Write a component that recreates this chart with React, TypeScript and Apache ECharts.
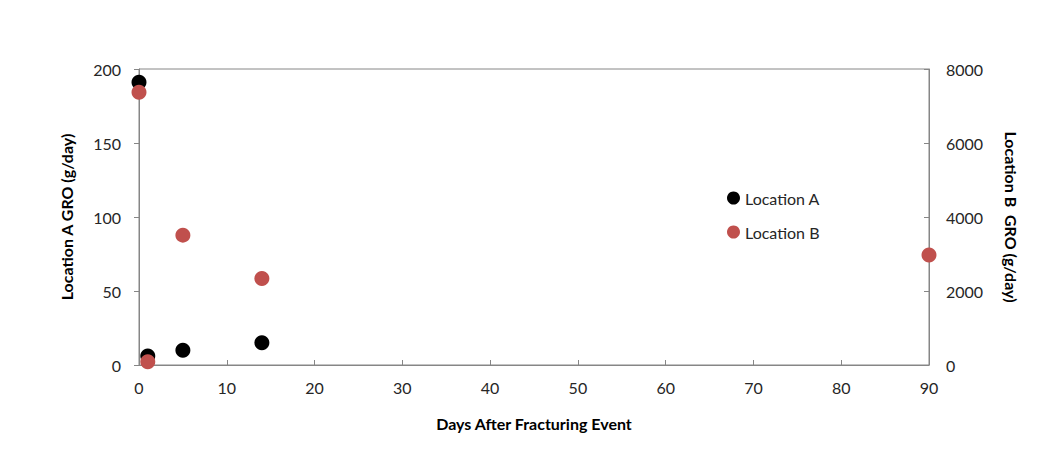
import React, { useEffect, useRef } from "react";
import * as echarts from "echarts";

// Days after the fracturing event at which GRO was measured
const daysA = [0, 1, 5, 14];
const groA = [191, 6, 10, 15]; // g/day, Location A (left axis)

const daysB = [0, 1, 5, 14, 90];
const groB = [7370, 90, 3510, 2340, 2970]; // g/day, Location B (right axis)

const xTicks = [0, 10, 20, 30, 40, 50, 60, 70, 80, 90];
const leftTicks = [0, 50, 100, 150, 200];
const rightTicks = [0, 2000, 4000, 6000, 8000];

const FONT = "Lato, 'Open Sans', sans-serif";
const AXIS_COLOR = "#868686";
const TEXT_COLOR = "#262626";

export default function App() {
  const ref = useRef<HTMLDivElement>(null);

  useEffect(() => {
    if (!ref.current) return;
    const chart = echarts.init(ref.current, undefined, { renderer: "svg" });

    const axisLabel = { color: TEXT_COLOR, fontSize: 16, fontFamily: FONT, formatter: (v: number) => String(v) };
    const axisName = { color: "#000", fontSize: 16, fontWeight: "bold" as const, fontFamily: FONT };

    chart.setOption({
      animation: false,
      backgroundColor: "#fff",
      textStyle: { fontFamily: FONT },
      // outer frame: left and top edges
      graphic: [
        {
          type: "polyline",
          z: 100,
          shape: { points: [[4, 464], [4, 5], [1043, 5]] },
          style: { fill: "none", stroke: "#000", lineWidth: 2 },
        },
      ],
      grid: {
        left: 139,
        right: 116,
        top: 69,
        bottom: 101,
        show: true,
        borderColor: AXIS_COLOR,
        borderWidth: 1,
        backgroundColor: "transparent",
      },
      legend: {
        left: 722,
        top: 185,
        orient: "vertical",
        itemGap: 18,
        itemWidth: 13,
        itemHeight: 13,
        icon: "circle",
        textStyle: { color: TEXT_COLOR, fontSize: 16, fontFamily: FONT },
        data: ["Location A", "Location B"],
      },
      xAxis: {
        type: "value",
        min: xTicks[0],
        max: xTicks[xTicks.length - 1],
        interval: 10,
        name: "Days After Fracturing Event",
        nameLocation: "middle",
        nameGap: 50,
        nameTextStyle: axisName,
        axisLine: { show: true, lineStyle: { color: AXIS_COLOR } },
        axisTick: { show: true, inside: true, length: 5, lineStyle: { color: AXIS_COLOR } },
        axisLabel: { ...axisLabel, margin: 14 },
        splitLine: { show: false },
      },
      yAxis: [
        {
          type: "value",
          position: "left",
          min: leftTicks[0],
          max: leftTicks[leftTicks.length - 1],
          interval: 50,
          name: "Location A GRO (g/day)",
          nameLocation: "middle",
          nameRotate: 90,
          nameGap: 65,
          nameTextStyle: axisName,
          axisLine: { show: true, lineStyle: { color: AXIS_COLOR } },
          axisTick: { show: true, length: 5, lineStyle: { color: AXIS_COLOR } },
          axisLabel: { ...axisLabel, margin: 18 },
          splitLine: { show: false },
        },
        {
          type: "value",
          position: "right",
          min: rightTicks[0],
          max: rightTicks[rightTicks.length - 1],
          interval: 2000,
          name: "Location B  GRO (g/day)",
          nameLocation: "middle",
          nameRotate: -90,
          nameGap: 74,
          nameTextStyle: axisName,
          axisLine: { show: true, lineStyle: { color: AXIS_COLOR } },
          axisTick: { show: true, inside: true, length: 5, lineStyle: { color: AXIS_COLOR } },
          axisLabel: { ...axisLabel, margin: 17 },
          splitLine: { show: false },
        },
      ],
      series: [
        {
          name: "Location A",
          type: "scatter",
          yAxisIndex: 0,
          symbol: "circle",
          symbolSize: 15,
          itemStyle: { color: "#000000", opacity: 1 },
          data: daysA.map((d, i) => [d, groA[i]]),
          z: 2,
        },
        {
          name: "Location B",
          type: "scatter",
          yAxisIndex: 1,
          symbol: "circle",
          symbolSize: 15,
          itemStyle: { color: "#C0504D", opacity: 1 },
          data: daysB.map((d, i) => [d, groB[i]]),
          z: 3,
        },
      ],
    });

    return () => chart.dispose();
  }, []);

  return <div ref={ref} style={{ width: 1045, height: 466, margin: -8 }} />;
}
